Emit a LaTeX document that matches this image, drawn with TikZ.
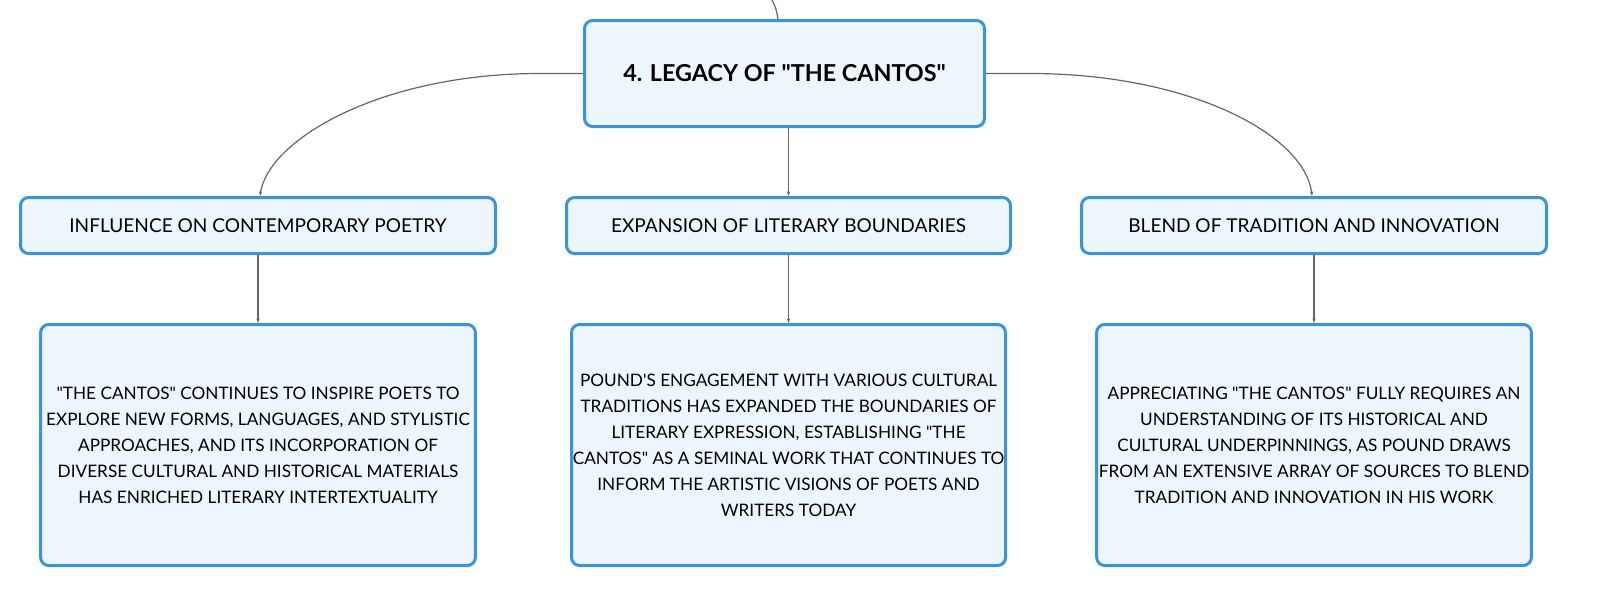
\documentclass[tikz,border=0pt]{standalone}
\usepackage{fontspec}
\setmainfont{Lato}
\usetikzlibrary{arrows.meta}
\definecolor{boxborder}{HTML}{3A94DC}
\definecolor{boxfill}{HTML}{EEF6FD}
\definecolor{linkgray}{HTML}{666666}
\tikzset{
  basebox/.style={draw=boxborder, fill=boxfill, line width=2.25pt, rounded corners=6pt,
    inner sep=0pt, align=center, text=black},
  titlebox/.style={basebox, minimum width=300pt, minimum height=79.5pt,
    font=\fontsize{17.5}{21}\selectfont\bfseries},
  topicbox/.style={basebox, minimum height=42pt, font=\fontsize{14.3}{17}\selectfont},
  detailbox/.style={basebox, minimum width=326pt, minimum height=180.75pt,
    font=\fontsize{12.9}{19.5}\selectfont},
  link/.style={draw=linkgray, line width=0.9pt, -{Stealth[length=3.5pt,width=2.5pt]}},
}
\newcommand{\dq}{\textquotedbl}
\begin{document}
\begin{tikzpicture}[x=0.75pt,y=-0.75pt]
\useasboundingbox (0,0) rectangle (1608,603);
\node[titlebox] (title) at (784.5,73.5) {4. LEGACY OF \dq THE CANTOS\dq};
\node[topicbox, minimum width=356.25pt] (l1) at (258,225.5) {INFLUENCE ON CONTEMPORARY POETRY};
\node[topicbox, minimum width=333pt] (l2) at (788.5,225.5) {EXPANSION OF LITERARY BOUNDARIES};
\node[topicbox, minimum width=348.75pt] (l3) at (1314,225.5) {BLEND OF TRADITION AND INNOVATION};
\node[detailbox] (b1) at (258,445) {\dq THE CANTOS\dq{} CONTINUES TO INSPIRE POETS TO\\EXPLORE NEW FORMS, LANGUAGES, AND STYLISTIC\\APPROACHES, AND ITS INCORPORATION OF\\DIVERSE CULTURAL AND HISTORICAL MATERIALS\\HAS ENRICHED LITERARY INTERTEXTUALITY};
\node[detailbox, minimum width=325.5pt] (b2) at (788.5,445) {POUND\textquotesingle S ENGAGEMENT WITH VARIOUS CULTURAL\\TRADITIONS HAS EXPANDED THE BOUNDARIES OF\\LITERARY EXPRESSION, ESTABLISHING \dq THE\\CANTOS\dq{} AS A SEMINAL WORK THAT CONTINUES TO\\INFORM THE ARTISTIC VISIONS OF POETS AND\\WRITERS TODAY};
\node[detailbox] (b3) at (1314,445) {APPRECIATING \dq THE CANTOS\dq{} FULLY REQUIRES AN\\UNDERSTANDING OF ITS HISTORICAL AND\\CULTURAL UNDERPINNINGS, AS POUND DRAWS\\FROM AN EXTENSIVE ARRAY OF SOURCES TO BLEND\\TRADITION AND INNOVATION IN HIS WORK};
\coordinate (top) at (772,0);
\coordinate (lbend) at (540,73.5);
\coordinate (rbend) at (1030,73.5);
\draw[draw=linkgray, line width=0.9pt] (top) .. controls (776,8) .. ([xshift=-4.9pt]title.north);
\draw[link] (title.west) -- (lbend) .. controls (380,73.5) and (268,140) .. ([xshift=1.5pt]l1.north);
\draw[link] (title.east) -- (rbend) .. controls (1190,73.5) and (1305,135) .. ([xshift=-1.5pt]l3.north);
\draw[link] (l2.north |- title.south) -- (l2.north);
\draw[link] (l1.south) -- (b1.north);
\draw[link] (l2.south) -- (b2.north);
\draw[link] (l3.south) -- (b3.north);
\end{tikzpicture}
\end{document}
